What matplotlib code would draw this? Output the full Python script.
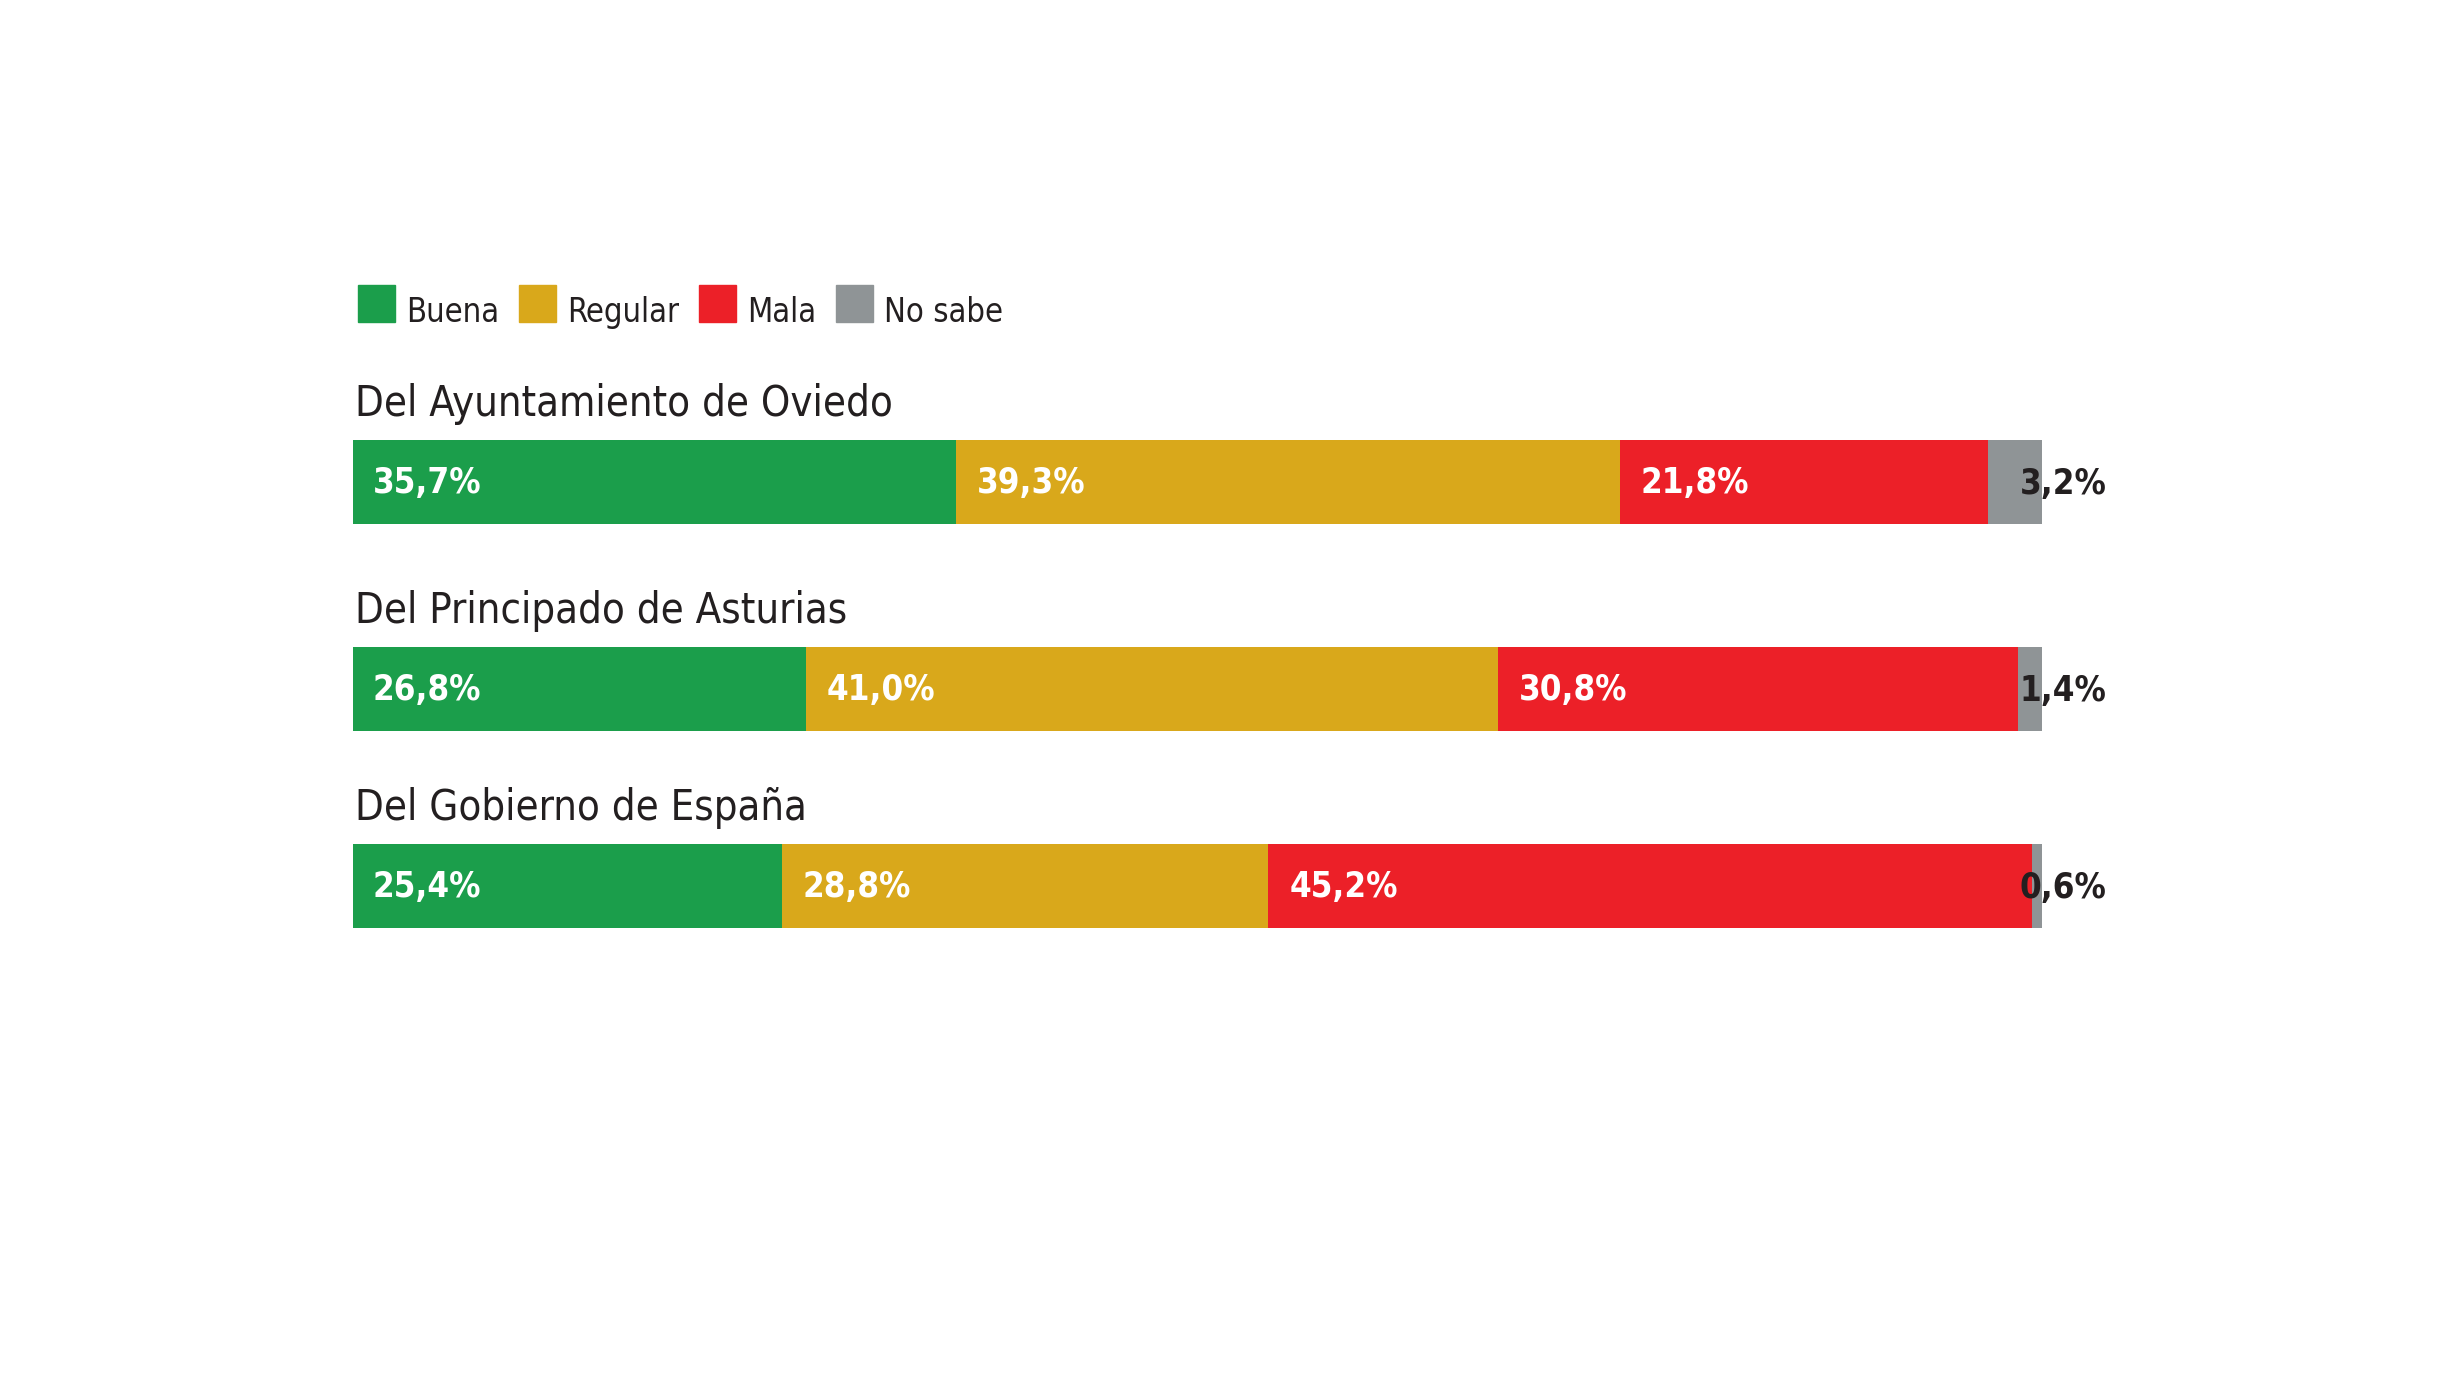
import matplotlib
matplotlib.use('Agg')
import matplotlib.pyplot as plt
from matplotlib import font_manager as fm
from matplotlib.patches import Rectangle
import glob

# ---- data ----
categories = ["Del Ayuntamiento de Oviedo", "Del Principado de Asturias", "Del Gobierno de España"]
series_names = ["Buena", "Regular", "Mala", "No sabe"]
buena = [35.7, 26.8, 25.4]
regular = [39.3, 41.0, 28.8]
mala = [21.8, 30.8, 45.2]
no_sabe = [3.2, 1.4, 0.6]

series = [buena, regular, mala, no_sabe]
colors = ["#1b9e4b", "#d9a81b", "#ec2028", "#8f9496"]
DARK = "#231f20"

W, H, DPI = 2446, 1382, 100

# ---- fonts: prefer DejaVu Sans Condensed ----
reg_path = bold_path = None
for f in fm.fontManager.ttflist:
    name = f.fname.split('/')[-1]
    if name == 'DejaVuSansCondensed.ttf':
        reg_path = f.fname
    elif name == 'DejaVuSansCondensed-Bold.ttf':
        bold_path = f.fname
if reg_path is None:
    c = glob.glob('/usr/share/fonts/**/DejaVuSansCondensed.ttf', recursive=True)
    if c:
        reg_path = c[0]
if bold_path is None:
    c = glob.glob('/usr/share/fonts/**/DejaVuSansCondensed-Bold.ttf', recursive=True)
    if c:
        bold_path = c[0]


def fp(size, bold=False):
    path = bold_path if bold else reg_path
    if path:
        return fm.FontProperties(fname=path, size=size)
    return fm.FontProperties(family='DejaVu Sans', weight='bold' if bold else 'normal', size=size * 0.89)


fig = plt.figure(figsize=(W / DPI, H / DPI), dpi=DPI)
fig.patch.set_facecolor('white')

# axes spanning the full figure height, y in pixels from the top
bar_left_px, bar_right_px = 353, 2042
ax = fig.add_axes([bar_left_px / W, 0, (bar_right_px - bar_left_px) / W, 1])
ax.set_xlim(0, 100)
ax.set_ylim(H, 0)
ax.axis('off')

# layout (row centres in pixels from top)
row_centres = [482, 689, 886]
bar_h = 84

lefts = [0.0] * len(categories)
for k, (vals, col) in enumerate(zip(series, colors)):
    ax.barh(row_centres, vals, left=lefts, height=bar_h, color=col, edgecolor='none')
    for i, v in enumerate(vals):
        txt = f"{v:.1f}".replace('.', ',') + '%'
        if k < 3:
            ax.annotate(txt, (lefts[i], row_centres[i]), xytext=(14 if k == 0 else 15, -7.8),
                        textcoords='offset points', ha='left', va='baseline',
                        color='white', fontproperties=fp(25, bold=True))
        else:
            ax.annotate(txt, (100, row_centres[i]), xytext=(15, -8.3),
                        textcoords='offset points', ha='center', va='baseline',
                        color=DARK, fontproperties=fp(25, bold=True),
                        annotation_clip=False)
    lefts = [l + v for l, v in zip(lefts, vals)]

# row titles
for i, cat in enumerate(categories):
    ax.text(0.1, row_centres[i] - bar_h / 2 - 24, cat, ha='left', va='baseline',
            color=DARK, fontproperties=fp(30), clip_on=False)

# legend (manual)
renderer = fig.canvas.get_renderer()
x = 358
sq = 37
base_y = 322
for name, col in zip(series_names, colors):
    fig.patches.append(Rectangle((x / W, 1 - base_y / H), sq / W, sq / H,
                                 transform=fig.transFigure, color=col,
                                 figure=fig))
    t = fig.text((x + sq + 11) / W, 1 - base_y / H, name, ha='left', va='baseline',
                 color=DARK, fontproperties=fp(23.5))
    wpx = t.get_window_extent(renderer).width
    x = x + sq + 11 + wpx + 20

fig.savefig('out.png', dpi=DPI, facecolor='white')
